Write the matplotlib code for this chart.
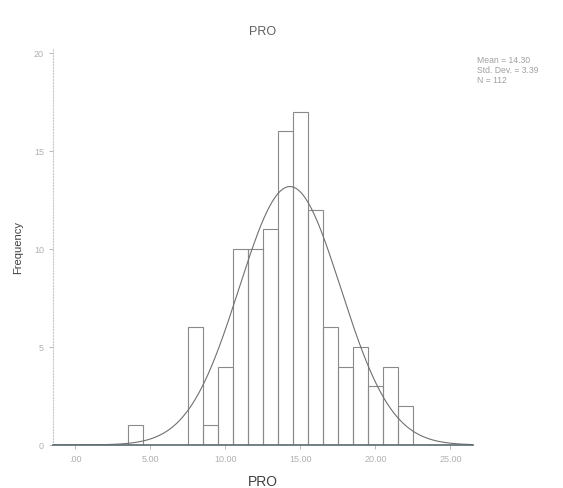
"""
SPSS style histogram of PRO with a fitted normal curve.
"""
import matplotlib
matplotlib.use('Agg')
import matplotlib.pyplot as plt
import numpy as np

# counts per integer score (bins of width 1)
scores = [4, 8, 9, 10, 11, 12, 13, 14, 15, 16, 17, 18, 19, 20, 21, 22]
counts = [1, 6, 1, 4, 10, 10, 11, 16, 17, 12, 6, 4, 5, 3, 4, 2]
x_ticks = [0, 5, 10, 15, 20, 25]
x_tick_labels = ['.00', '5.00', '10.00', '15.00', '20.00', '25.00']
y_ticks = [0, 5, 10, 15, 20]

mean_val = 14.30
sd_val = 3.39
n_val = 112

plt.rcParams['font.family'] = ['Liberation Sans', 'DejaVu Sans']

fig = plt.figure(figsize=(5.63, 4.89), dpi=100)
ax = fig.add_axes([0.094, 0.088, 0.746, 0.810])

# Draw the histogram bars (unfilled, faded like the scan)
ax.bar(scores, counts, width=1.0, align='center', facecolor='none',
       edgecolor='#8a8a8a', linewidth=0.8)

# Normal curve scaled to counts (bin width 1)
xs = np.linspace(-1.5, 26.5, 400)
ys = n_val * np.exp(-0.5 * ((xs - mean_val) / sd_val) ** 2) / (sd_val * np.sqrt(2 * np.pi))
ax.plot(xs, ys, color='#707070', linewidth=0.8)

ax.set_xlim(-1.5, 26.5)
ax.set_ylim(0, 20.2)
ax.set_xticks(x_ticks)
ax.set_xticklabels(x_tick_labels, fontsize=6.5, color='#b0b0b0')
ax.set_yticks(y_ticks)
ax.set_yticklabels([str(v) for v in y_ticks], fontsize=6.5, color='#b0b0b0')
ax.tick_params(axis='both', colors='#b0b0b0', length=3, width=0.6)

for side in ['top', 'right']:
    ax.spines[side].set_visible(False)
ax.spines['left'].set_color('#c8c8c8')
ax.spines['left'].set_linestyle(':')
ax.spines['left'].set_linewidth(0.8)
ax.spines['bottom'].set_color('#5a6a70')
ax.spines['bottom'].set_linewidth(1.2)

ax.set_xlabel('PRO', fontsize=10, color='#404040', labelpad=8)
ax.set_ylabel('Frequency', fontsize=8, color='#404040', labelpad=8)
ax.set_title('PRO', fontsize=9, color='#606060', pad=11)

# Stats box in the upper right
fig.text(0.847, 0.885, 'Mean = %.2f\nStd. Dev. = %.2f\nN = %d' % (mean_val, sd_val, n_val),
         fontsize=6.2, color='#a0a0a0', va='top', ha='left', linespacing=1.1)

fig.savefig('out.png', dpi=100)
